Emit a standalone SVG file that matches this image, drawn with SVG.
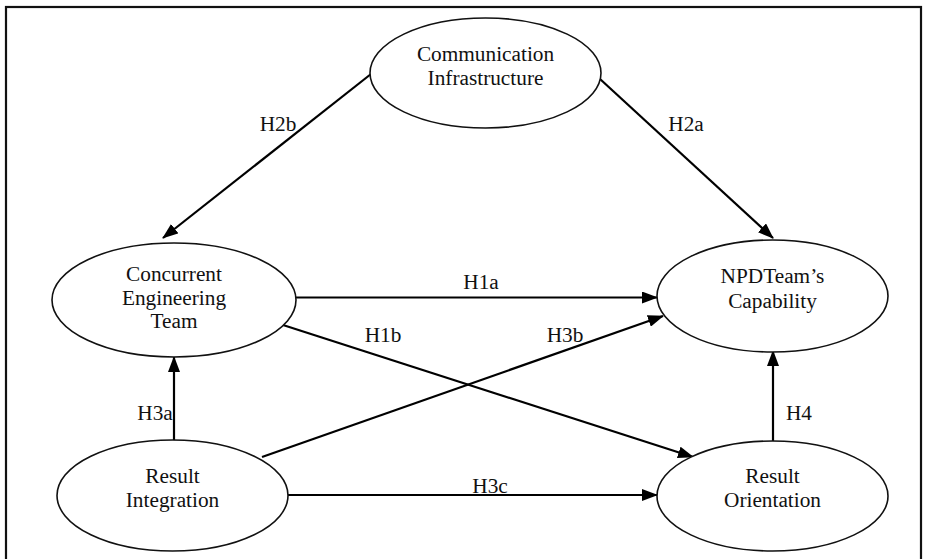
<svg xmlns="http://www.w3.org/2000/svg" width="926" height="559" viewBox="0 0 926 559">
<style>
.n ellipse{fill:#fff;stroke:#111;stroke-width:1.6}
text{font-family:'Liberation Serif','Times New Roman',Times,serif;font-size:21.3px;fill:#111;text-anchor:middle}
.c line{stroke:#000;stroke-width:2.2;marker-end:url(#ah)}
</style>
<defs>
<marker id="ah" markerWidth="16" markerHeight="12" refX="15" refY="6" orient="auto" markerUnits="userSpaceOnUse">
<path d="M0,0 L16,6 L0,12 Z" fill="#000"/>
</marker>
</defs>
<rect x="0" y="0" width="926" height="559" fill="#fff"/>
<rect x="6" y="7" width="915" height="570" fill="none" stroke="#111" stroke-width="2.2"/>
<g class="c">
<line x1="371" y1="74" x2="163" y2="238"/>
<line x1="600" y1="79" x2="773" y2="238"/>
<line x1="293" y1="297.5" x2="657" y2="297.5"/>
<line x1="283" y1="325" x2="693" y2="457"/>
<line x1="262" y1="457" x2="663" y2="316"/>
<line x1="174" y1="441" x2="174" y2="357"/>
<line x1="773" y1="441" x2="773" y2="351"/>
<line x1="288" y1="495" x2="657" y2="495"/>
</g>
<g class="lbl">
<text x="278" y="131">H2b</text>
<text x="686" y="131">H2a</text>
<text x="481" y="289">H1a</text>
<text x="383" y="342">H1b</text>
<text x="565" y="342">H3b</text>
<text x="155" y="420">H3a</text>
<text x="799" y="420">H4</text>
<text x="490" y="493">H3c</text>
</g>
<g id="comm" class="n">
<ellipse cx="485.5" cy="73" rx="115.5" ry="55"/>
<text x="485.5" y="61">Communication</text>
<text x="485.5" y="85">Infrastructure</text>
</g>
<g id="cet" class="n">
<ellipse cx="174" cy="300" rx="122" ry="57"/>
<text x="174" y="281">Concurrent</text>
<text x="174" y="305">Engineering</text>
<text x="174" y="328">Team</text>
</g>
<g id="npd" class="n">
<ellipse cx="772.5" cy="296" rx="115.5" ry="56"/>
<text x="772.5" y="283">NPDTeam’s</text>
<text x="772.5" y="308">Capability</text>
</g>
<g id="ri" class="n">
<ellipse cx="172.5" cy="495.5" rx="115.5" ry="55.5"/>
<text x="172.5" y="483">Result</text>
<text x="172.5" y="507">Integration</text>
</g>
<g id="ro" class="n">
<ellipse cx="772.5" cy="496" rx="115.5" ry="55"/>
<text x="772.5" y="483">Result</text>
<text x="772.5" y="507">Orientation</text>
</g>
</svg>
